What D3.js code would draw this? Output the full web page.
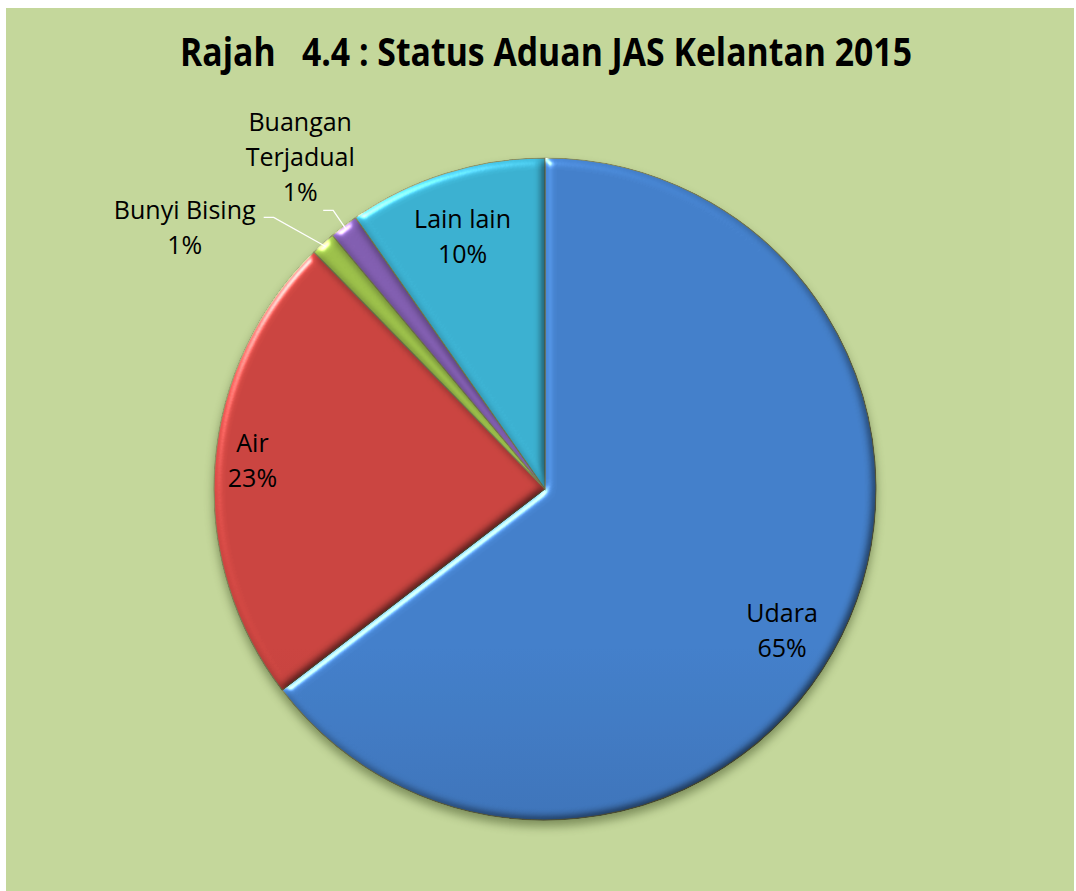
<!DOCTYPE html>
<html>
<head>
<meta charset="utf-8">
<script src="https://cdn.jsdelivr.net/npm/d3@7"></script>
<style>
  body { margin: 0; background: #fff; }
  svg { display: block; }
</style>
</head>
<body>
<div id="app"></div>
<script>
// data
let categories = ['Udara', 'Air', 'Bunyi Bising', 'Buangan Terjadual', 'Lain lain'];
let values = [64.6, 23.1, 1.2, 1.4, 9.7];
let labelLines = [['Udara'], ['Air'], ['Bunyi Bising'], ['Buangan', 'Terjadual'], ['Lain lain']];
let topColors = ['#4b8ddf', '#df4c47', '#acd452', '#8f68c2', '#42c3e6'];
let bottomColors = ['#345f9c', '#a93230', '#8fb63a', '#714ca2', '#2a9ec0'];
let title = 'Rajah\u00a0\u00a0 4.4 : Status Aduan JAS Kelantan 2015';

let width = 1076;
let height = 891;
let cx = 545, cy = 489, radius = 331;

let svg = d3.select('#app').append('svg')
    .attr('width', width)
    .attr('height', height);

let defs = svg.append('defs');

// bevel look of the office chart
let bevel = defs.append('filter').attr('id', 'bevel')
    .attr('color-interpolation-filters', 'sRGB')
    .attr('x', '-5%').attr('y', '-5%').attr('width', '110%').attr('height', '110%');
bevel.append('feGaussianBlur').attr('in', 'SourceAlpha').attr('stdDeviation', 5).attr('result', 'blur');
bevel.append('feDiffuseLighting').attr('in', 'blur').attr('surfaceScale', 4)
    .attr('diffuseConstant', 1).attr('lighting-color', '#fff').attr('result', 'diff')
  .append('feDistantLight').attr('azimuth', 225).attr('elevation', 60);
bevel.append('feComposite').attr('in', 'SourceGraphic').attr('in2', 'diff')
    .attr('operator', 'arithmetic').attr('k1', 1.05).attr('k2', 0).attr('k3', 0).attr('k4', 0)
    .attr('result', 'shaded');
bevel.append('feSpecularLighting').attr('in', 'blur').attr('surfaceScale', 4)
    .attr('specularConstant', 0.6).attr('specularExponent', 60)
    .attr('lighting-color', '#fff').attr('result', 'spec')
  .append('feDistantLight').attr('azimuth', 225).attr('elevation', 40);
bevel.append('feComposite').attr('in', 'spec').attr('in2', 'SourceAlpha')
    .attr('operator', 'in').attr('result', 'specIn');
bevel.append('feComposite').attr('in', 'shaded').attr('in2', 'specIn')
    .attr('operator', 'arithmetic').attr('k1', 0).attr('k2', 1).attr('k3', 1).attr('k4', 0)
    .attr('result', 'lit');
bevel.append('feComposite').attr('in', 'lit').attr('in2', 'SourceAlpha').attr('operator', 'in');

let shadow = defs.append('filter').attr('id', 'shadow')
    .attr('color-interpolation-filters', 'sRGB')
    .attr('x', '-10%').attr('y', '-10%').attr('width', '120%').attr('height', '125%');
shadow.append('feDropShadow').attr('dx', 0).attr('dy', 6).attr('stdDeviation', 5)
    .attr('flood-color', '#2a3a10').attr('flood-opacity', 0.45);

categories.forEach(function(c, i) {
  let g = defs.append('linearGradient').attr('id', 'grad' + i)
      .attr('gradientUnits', 'userSpaceOnUse')
      .attr('x1', 0).attr('y1', cy - radius).attr('x2', 0).attr('y2', cy + radius);
  g.append('stop').attr('offset', '0%').attr('stop-color', topColors[i]);
  g.append('stop').attr('offset', '100%').attr('stop-color', bottomColors[i]);
});

// background panel
svg.append('rect')
    .attr('x', 6).attr('y', 8)
    .attr('width', width - 8).attr('height', height - 8)
    .attr('fill', '#c4d79b');

svg.append('text')
    .attr('x', 546).attr('y', 66)
    .attr('text-anchor', 'middle')
    .attr('textLength', 732)
    .attr('lengthAdjust', 'spacingAndGlyphs')
    .style('font-family', '"Open Sans", "Noto Sans", sans-serif')
    .style('font-weight', 'bold')
    .style('font-size', '40px')
    .attr('fill', '#000')
    .text(title);

let pie = d3.pie().sort(null).value(function(d) { return d; });
let arcs = pie(values);
let total = d3.sum(values);
let arc = d3.arc().innerRadius(0).outerRadius(radius);

let chart = svg.append('g')
    .attr('transform', 'translate(' + cx + ',' + cy + ')');

chart.append('g')
    .attr('filter', 'url(#shadow)')
  .selectAll('path')
    .data(arcs)
    .enter()
    .append('path')
      .attr('d', arc)
      .attr('fill', function(d, i) { return 'url(#grad' + i + ')'; })
      .attr('filter', 'url(#bevel)')
      .attr('stroke', '#8e9160')
      .attr('stroke-width', 1.2);

function polar(angle, r) {
  return [r * Math.sin(angle), -r * Math.cos(angle)];
}

let pctText = function(d) { return Math.round(d.value / total * 100) + '%'; };
let font = '"Open Sans", "Noto Sans", sans-serif';
let lineH = 35;

// inside labels: radius and small turn (degrees) off the mid angle
let inside = { 0: { r: 276, turn: 4.5 }, 1: { r: 294, turn: 1.5 }, 4: { r: 266, turn: -0.6 } };
// outside labels: leader elbow offset and text block centre offset from line end
let outside = { 2: { elbow: [-52, -29], text: [-79, 10] }, 3: { elbow: [-13, -19], text: [-23, -53] } };

arcs.forEach(function(d, i) {
  let mid = (d.startAngle + d.endAngle) / 2;
  let lines = labelLines[i].concat([pctText(d)]);
  let centre;
  if (inside[i]) {
    centre = polar(mid + inside[i].turn * Math.PI / 180, inside[i].r);
  } else {
    let o = outside[i];
    let p0 = polar(mid, radius - 4);
    let p1 = [p0[0] + o.elbow[0], p0[1] + o.elbow[1]];
    let p2 = [p1[0] - 10, p1[1]];
    chart.append('polyline')
        .attr('points', [p0, p1, p2].map(function(p) { return p.join(','); }).join(' '))
        .attr('fill', 'none')
        .attr('stroke', '#fff')
        .attr('stroke-width', 1.3);
    centre = [p2[0] + o.text[0], p2[1] + o.text[1]];
  }
  let t = chart.append('text')
      .attr('text-anchor', 'middle')
      .style('font-family', font)
      .style('font-size', '25px')
      .attr('fill', '#000');
  lines.forEach(function(line, j) {
    t.append('tspan')
        .attr('x', centre[0])
        .attr('y', centre[1] + (j - (lines.length - 1) / 2) * lineH + 9)
        .text(line);
  });
});
</script>
</body>
</html>
